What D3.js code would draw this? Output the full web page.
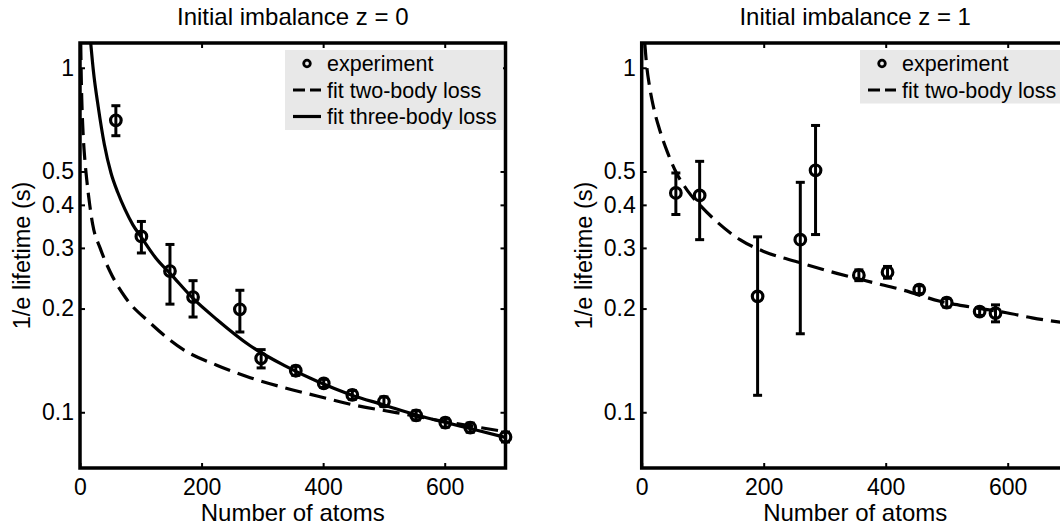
<!DOCTYPE html>
<html>
<head>
<meta charset="utf-8">
<script src="https://cdn.jsdelivr.net/npm/d3@7"></script>
<style>
	html, body { margin: 0; padding: 0; background: #fff; }
	svg { display: block; font-family: 'Liberation Sans', Arial, Helvetica, sans-serif; }
</style>
</head>
<body>
<svg id="chart" width="1060" height="526"></svg>
<script>
// z = 0 measurements
const leftAtoms = [59, 101, 148, 186, 263, 298, 355, 401, 448, 500, 553, 601, 642, 700]
const leftLifetime = [0.704, 0.324, 0.257, 0.216, 0.199, 0.1434, 0.132, 0.1213, 0.1123, 0.1074, 0.098, 0.0933, 0.0903, 0.0848]
const leftLow = [0.635, 0.29, 0.206, 0.189, 0.171, 0.1345, 0.128, 0.118, 0.109, 0.104, 0.095, 0.0905, 0.0875, 0.082]
const leftHigh = [0.776, 0.358, 0.307, 0.241, 0.226, 0.152, 0.136, 0.1246, 0.1156, 0.1108, 0.101, 0.096, 0.093, 0.0876]

// z = 0 fits
const leftTwoBodyAtoms = [1.2, 2, 3, 5, 8, 11, 16, 21, 33, 50, 75, 115, 170, 225, 280, 335, 390, 450, 520, 600, 700]
const leftTwoBodyLifetime = [1.18, 0.95, 0.8, 0.65, 0.54, 0.475, 0.4, 0.35, 0.3, 0.255, 0.215, 0.182, 0.152, 0.137, 0.126, 0.118, 0.1115, 0.105, 0.0998, 0.094, 0.0878]
const leftThreeBodyAtoms = [17.6, 22, 30, 40, 51, 62, 74, 87, 101, 125, 150, 186, 225, 280, 335, 390, 445, 500, 555, 600, 650, 700]
const leftThreeBodyLifetime = [1.18, 0.98, 0.77, 0.6, 0.495, 0.435, 0.388, 0.35, 0.322, 0.28, 0.251, 0.214, 0.186, 0.156, 0.137, 0.123, 0.1125, 0.105, 0.098, 0.0935, 0.089, 0.0845]

// z = 1 measurements
const rightAtoms = [56, 95, 190, 260, 285, 356, 403, 455, 500, 554, 580]
const rightLifetime = [0.433, 0.426, 0.217, 0.317, 0.504, 0.25, 0.255, 0.227, 0.208, 0.196, 0.194]
const rightLow = [0.375, 0.317, 0.112, 0.169, 0.328, 0.241, 0.245, 0.221, 0.202, 0.191, 0.183]
const rightHigh = [0.495, 0.535, 0.323, 0.465, 0.68, 0.259, 0.265, 0.233, 0.214, 0.201, 0.205]

// z = 1 fit
const rightTwoBodyAtoms = [5, 8, 13, 20, 29.5, 42, 57, 75, 95, 125, 161, 200, 259, 320, 379, 430, 489, 540, 598, 640, 700]
const rightTwoBodyLifetime = [1.18, 1.02, 0.88, 0.76, 0.66, 0.57, 0.495, 0.44, 0.4, 0.355, 0.317, 0.293, 0.272, 0.253, 0.238, 0.226, 0.21, 0.202, 0.1945, 0.188, 0.181]

const yTickValues = [0.1, 0.2, 0.3, 0.4, 0.5, 1]
const xTickValues = [0, 200, 400, 600]
const titles = ['Initial imbalance z = 0', 'Initial imbalance z = 1']
const xLabel = 'Number of atoms'
const yLabel = '1/e lifetime (s)'

const svg = d3.select('#chart')
const plotTop = 43
const plotBottom = 468

const panels = [
	{
		id: 'left',
		title: titles[0],
		left: 80,
		right: 505.5,
		points: leftAtoms.map((n, i) => ({ n, v: leftLifetime[i], lo: leftLow[i], hi: leftHigh[i] })),
		curves: [
			{ n: leftTwoBodyAtoms, v: leftTwoBodyLifetime, dashed: true },
			{ n: leftThreeBodyAtoms, v: leftThreeBodyLifetime, dashed: false }
		],
		legend: { x: 285, w: 218, items: ['marker', 'dashed', 'solid'], labels: ['experiment', 'fit two-body loss', 'fit three-body loss'] }
	},
	{
		id: 'right',
		title: titles[1],
		left: 641.7,
		right: 1068.7,
		points: rightAtoms.map((n, i) => ({ n, v: rightLifetime[i], lo: rightLow[i], hi: rightHigh[i] })),
		curves: [{ n: rightTwoBodyAtoms, v: rightTwoBodyLifetime, dashed: true }],
		legend: { x: 860, w: 206, items: ['marker', 'dashed'], labels: ['experiment', 'fit two-body loss'] }
	}
]

panels.forEach(p => drawPanel(p))

function drawPanel(p) {
	const x = d3.scaleLinear().domain([0, 700]).range([p.left, p.right])
	const y = d3.scaleLog().domain([0.0689, 1.18]).range([plotBottom, plotTop])
	const g = svg.append('g')
	const midX = (p.left + p.right) / 2

	g.append('clipPath')
		.attr('id', `clip-${p.id}`)
		.append('rect')
		.attr('x', p.left)
		.attr('y', plotTop)
		.attr('width', p.right - p.left)
		.attr('height', plotBottom - plotTop)

	// fit curves
	const line = d3
		.line()
		.x(d => x(d[0]))
		.y(d => y(d[1]))
		.curve(d3.curveMonotoneX)

	g.append('g')
		.attr('clip-path', `url(#clip-${p.id})`)
		.selectAll('path')
		.data(p.curves)
		.enter()
		.append('path')
		.attr('d', c => line(c.n.map((n, i) => [n, c.v[i]])))
		.attr('fill', 'none')
		.attr('stroke', '#000')
		.attr('stroke-width', 3.2)
		.attr('stroke-dasharray', c => (c.dashed ? '17,8' : null))

	// error bars + markers
	const pts = g.append('g').selectAll('g').data(p.points).enter().append('g')
	pts.append('line')
		.attr('x1', d => x(d.n))
		.attr('x2', d => x(d.n))
		.attr('y1', d => y(d.lo))
		.attr('y2', d => y(d.hi))
		.attr('stroke', '#000')
		.attr('stroke-width', 3)
	;['lo', 'hi'].forEach(k => {
		pts.append('line')
			.attr('x1', d => x(d.n) - 4.5)
			.attr('x2', d => x(d.n) + 4.5)
			.attr('y1', d => y(d[k]))
			.attr('y2', d => y(d[k]))
			.attr('stroke', '#000')
			.attr('stroke-width', 3)
	})
	pts.append('circle')
		.attr('cx', d => x(d.n))
		.attr('cy', d => y(d.v))
		.attr('r', 5.3)
		.attr('fill', 'none')
		.attr('stroke', '#000')
		.attr('stroke-width', 3.2)

	// axes, ticks inside on all four sides
	const fmt = d3.format('~g')
	const axes = [
		{ axis: d3.axisLeft(y).tickValues(yTickValues).tickFormat(fmt).tickPadding(6), at: `translate(${p.left},0)` },
		{ axis: d3.axisRight(y).tickValues(yTickValues).tickFormat(''), at: `translate(${p.right},0)` },
		{ axis: d3.axisBottom(x).tickValues(xTickValues).tickFormat(fmt).tickPadding(11), at: `translate(0,${plotBottom})` },
		{ axis: d3.axisTop(x).tickValues(xTickValues).tickFormat(''), at: `translate(0,${plotTop})` }
	]
	axes.forEach(a => {
		const ag = g.append('g')
			.attr('transform', a.at)
			.call(a.axis.tickSizeInner(-5).tickSizeOuter(0))
		ag.select('.domain').remove()
		ag.selectAll('line').attr('stroke', '#000').attr('stroke-width', 2)
		ag.selectAll('text')
			.attr('fill', '#000')
			.style('font-size', '23px')
			.style('font-family', "'Liberation Sans', Arial, Helvetica, sans-serif")
	})

	// frame
	g.append('rect')
		.attr('x', p.left)
		.attr('y', plotTop)
		.attr('width', p.right - p.left)
		.attr('height', plotBottom - plotTop)
		.attr('fill', 'none')
		.attr('stroke', '#000')
		.attr('stroke-width', 3.5)

	// legend
	const lg = g.append('g')
	const rowY = [71, 97.5, 124]
	lg.append('rect')
		.attr('x', p.legend.x)
		.attr('y', 50)
		.attr('width', p.legend.w)
		.attr('height', p.legend.items.length * 26.5 + 0.5)
		.attr('fill', '#e8e8e8')
	p.legend.items.forEach((kind, i) => {
		const by = rowY[i]
		if (kind == 'marker') {
			lg.append('circle')
				.attr('cx', p.legend.x + 22)
				.attr('cy', by - 7.5)
				.attr('r', 3.3)
				.attr('fill', 'none')
				.attr('stroke', '#000')
				.attr('stroke-width', 2.8)
		} else {
			lg.append('line')
				.attr('x1', p.legend.x + 8)
				.attr('x2', p.legend.x + 36)
				.attr('y1', by - 7.5)
				.attr('y2', by - 7.5)
				.attr('stroke', '#000')
				.attr('stroke-width', 3.2)
				.attr('stroke-dasharray', kind == 'dashed' ? '12,5' : null)
		}
		lg.append('text')
			.attr('x', p.legend.x + 42)
			.attr('y', by)
			.style('font-size', '21.5px')
			.text(p.legend.labels[i])
	})

	// titles and labels
	g.append('text')
		.attr('x', midX)
		.attr('y', 25)
		.attr('text-anchor', 'middle')
		.style('font-size', '24px')
		.text(p.title)

	g.append('text')
		.attr('x', midX)
		.attr('y', 521)
		.attr('text-anchor', 'middle')
		.style('font-size', '24px')
		.text(xLabel)

	g.append('text')
		.attr('transform', `translate(${p.left - 58},${(plotTop + plotBottom) / 2}) rotate(-90)`)
		.attr('text-anchor', 'middle')
		.attr('dy', '0.35em')
		.style('font-size', '23.5px')
		.text(yLabel)
}
</script>
</body>
</html>
